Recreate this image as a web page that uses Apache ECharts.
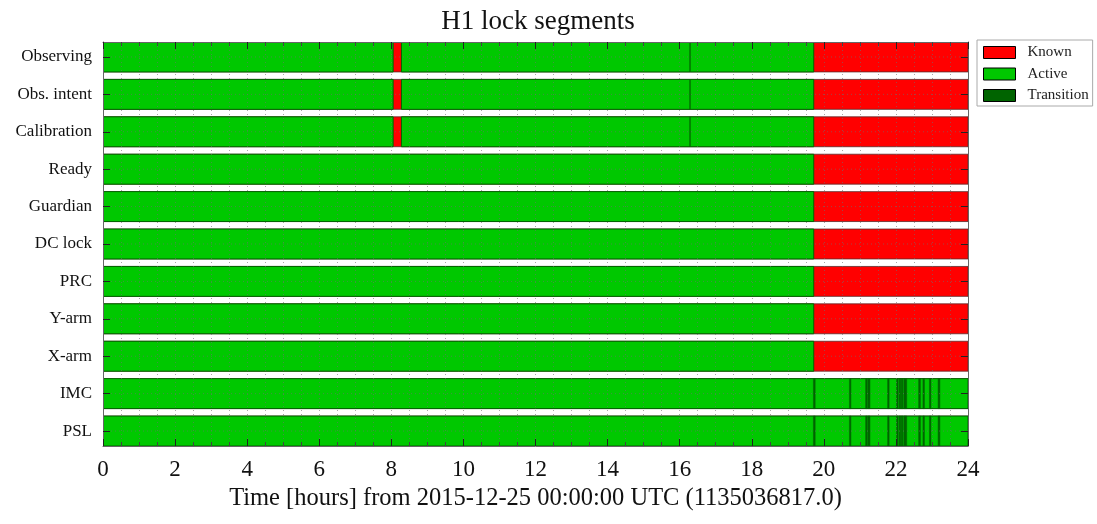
<!DOCTYPE html>
<html>
<head>
<meta charset="utf-8">
<script src="https://cdn.jsdelivr.net/npm/echarts@6/dist/echarts.min.js"></script>
<style>html,body{margin:0;padding:0;background:#fff}#c{width:1097px;height:524px}</style>
</head>
<body>
<div id="c"></div>
<script>
const rows = ['Observing','Obs. intent','Calibration','Ready','Guardian','DC lock','PRC','Y-arm','X-arm','IMC','PSL'];
const xTicks = [0,2,4,6,8,10,12,14,16,18,20,22,24];
// [rowIndex, start hour, end hour]
const knownSegs = [
  [0,0,24],[1,0,24],[2,0,24],[3,0,24],[4,0,24],[5,0,24],[6,0,24],[7,0,24],[8,0,24],[9,0,24],[10,0,24]
];
const activeSegs = [
  [0,0,8.05],[0,8.28,16.29],[0,16.29,19.72],
  [1,0,8.05],[1,8.28,16.29],[1,16.29,19.72],
  [2,0,8.05],[2,8.28,16.29],[2,16.29,19.72],
  [3,0,19.72],[4,0,19.72],[5,0,19.72],[6,0,19.72],[7,0,19.72],[8,0,19.72],
  [9,0,24],[10,0,24]
];
const transitionSegs = [
  [9,19.71,19.76],[9,20.71,20.75],[9,21.16,21.19],[9,21.22,21.28],[9,21.77,21.81],[9,22.02,22.05],
  [9,22.09,22.12],[9,22.15,22.19],[9,22.22,22.30],[9,22.63,22.68],[9,22.75,22.78],[9,22.93,22.96],[9,23.17,23.22],
  [10,19.71,19.76],[10,20.71,20.75],[10,21.16,21.19],[10,21.22,21.28],[10,21.77,21.81],[10,22.02,22.05],
  [10,22.09,22.12],[10,22.15,22.19],[10,22.22,22.30],[10,22.63,22.68],[10,22.75,22.78],[10,22.93,22.96],[10,23.17,23.22]
];
const FONT = 'Liberation Serif';
const styles = {
  Known: {fill:'#ff0000', stroke:'#5a2a2a', lw:0.8, minW:0},
  Active: {fill:'#00c800', stroke:'#006400', lw:1, minW:0},
  Transition: {fill:'#006400', stroke:'#006400', lw:0.5, minW:1.5}
};
function makeRender(name){
  const st = styles[name];
  return function(params, api){
    const row = api.value(0), s = api.value(1), e = api.value(2);
    const p1 = api.coord([s,row]), p2 = api.coord([e,row]);
    const h = api.size([0,0.8])[1];
    const w = Math.max(p2[0]-p1[0], st.minW);
    const cs = params.coordSys;
    const shape = echarts.graphic.clipRectByRect(
      {x:p1[0], y:p1[1]-h/2, width:w, height:h},
      {x:cs.x, y:cs.y, width:cs.width, height:cs.height});
    if(!shape) return;
    return {type:'rect', shape:shape, style:{fill:st.fill, stroke:st.stroke, lineWidth:st.lw}};
  };
}
function seg(name, data){
  return {
    name:name, type:'custom', renderItem:makeRender(name),
    itemStyle:{color:styles[name].fill},
    encode:{x:[1,2], y:0}, data:data, z:2, clip:true
  };
}
const rowIdx = rows.map(function(r,i){return i;});
const gridColor = 'rgba(110,110,110,0.6)';
const dotted = {show:true, lineStyle:{color:gridColor, type:[1,3], width:1}};
const chart = echarts.init(document.getElementById('c'), null, {renderer:'canvas'});
chart.setOption({
  animation:false,
  backgroundColor:'#fff',
  title:{text:'H1 lock segments', left:533, textAlign:'center', top:3,
    textStyle:{fontFamily:FONT, fontSize:27, fontWeight:'normal', color:'#111'}},
  legend:{
    data:['Known','Active','Transition'], orient:'vertical', left:977, top:40,
    icon:'rect', itemWidth:32, itemHeight:12, itemGap:6.5,
    itemStyle:{borderColor:'#000', borderWidth:1},
    borderColor:'#aaa', borderWidth:1, padding:[5,4,3,6], backgroundColor:'#fff',
    textStyle:{fontFamily:FONT, fontSize:15, color:'#222', padding:[0,0,0,7]}
  },
  grid:{left:103, right:129, top:42, bottom:78},
  xAxis:[{
    type:'value', min:0, max:24, interval:2, position:'bottom', z:5,
    name:'Time [hours] from 2015-12-25 00:00:00 UTC (1135036817.0)',
    nameLocation:'middle', nameGap:39,
    nameTextStyle:{fontFamily:FONT, fontSize:24.5, color:'#111'},
    axisLine:{show:true, onZero:false, lineStyle:{color:'#666', width:1}},
    axisTick:{show:true, inside:true, length:7, lineStyle:{color:'#222'}},
    minorTick:{show:true, splitNumber:4, length:4, lineStyle:{color:'#444'}},
    axisLabel:{show:true, margin:12, fontFamily:FONT, fontSize:23, color:'#111',
      formatter:function(v){return xTicks.indexOf(v)>=0 ? String(v) : '';}},
    splitLine:dotted, minorSplitLine:dotted
  },{
    type:'value', min:0, max:24, interval:2, position:'top', z:5,
    axisLine:{show:true, onZero:false, lineStyle:{color:'#666', width:1}},
    axisTick:{show:true, inside:true, length:7, lineStyle:{color:'#222'}},
    minorTick:{show:true, splitNumber:4, length:4, lineStyle:{color:'#444'}},
    axisLabel:{show:false}, splitLine:{show:false}
  }],
  yAxis:[{
    type:'value', min:-0.4, max:10.4, inverse:true, position:'left', z:5,
    axisLine:{show:true, onZero:false, lineStyle:{color:'#666', width:1}},
    axisTick:{show:true, inside:true, length:7, customValues:rowIdx, lineStyle:{color:'#222'}},
    axisLabel:{show:true, margin:11, fontFamily:FONT, fontSize:17, color:'#111',
      customValues:rowIdx,
      formatter:function(v){return rows[Math.round(v)];}},
    splitLine:{show:false}
  },{
    type:'value', min:-0.4, max:10.4, inverse:true, position:'right', z:5,
    axisLine:{show:true, onZero:false, lineStyle:{color:'#666', width:1}},
    axisTick:{show:true, inside:true, length:7, customValues:rowIdx, lineStyle:{color:'#222'}},
    axisLabel:{show:false}, splitLine:{show:false}
  }],
  series:[
    seg('Known', knownSegs), seg('Active', activeSegs), seg('Transition', transitionSegs),
    {
      name:'rowgrid', type:'custom', z:4, silent:true,
      encode:{y:0},
      data:rowIdx.map(function(i){return [i];}),
      renderItem:function(params, api){
        const cs = params.coordSys;
        const y = api.coord([0, api.value(0)])[1];
        return {type:'line', shape:{x1:cs.x, y1:y, x2:cs.x+cs.width, y2:y},
          style:{stroke:gridColor, lineWidth:1, lineDash:[1,3]}};
      }
    }
  ]
});
</script>
</body>
</html>
